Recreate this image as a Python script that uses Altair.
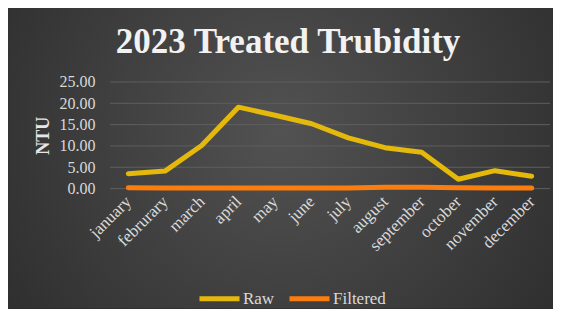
import altair as alt
import pandas as pd

months = ["january", "februrary", "march", "april", "may", "june", "july",
          "august", "september", "october", "november", "december"]
raw = [3.5, 4.1, 10.1, 19.1, 17.2, 15.2, 11.9, 9.6, 8.5, 2.2, 4.2, 2.9]
filtered = [0.2, 0.15, 0.15, 0.15, 0.15, 0.15, 0.15, 0.3, 0.3, 0.2, 0.15, 0.15]
series = ["Raw", "Filtered"]
colors = ["#e4b90c", "#fb7d0e"]
y_ticks = [0, 5, 10, 15, 20, 25]
title_text = "2023 Treated Trubidity"

SERIF = "'Liberation Serif', serif"
W, H = 440, 106.6
PAD = {"left": 102, "top": 74, "right": 3, "bottom": 120}

df = pd.DataFrame({
    "month": months * 2,
    "value": raw + filtered,
    "series": [series[0]] * len(months) + [series[1]] * len(months),
})
grid_df = pd.DataFrame({"value": y_ticks})
one = pd.DataFrame({"t": [title_text]})

y_axis = alt.Axis(title="NTU", values=y_ticks, format=".2f", labelOverlap=False,
                  labelFont=SERIF, labelFontSize=16, labelColor="#d9d9d9",
                  labelPadding=15, domain=False, ticks=False, grid=False,
                  titleFont=SERIF, titleFontSize=18, titleFontWeight="bold",
                  titleColor="#e6e6e6", titleX=-67, titleY=H / 2,
                  titleBaseline="middle", titleAngle=270, zindex=1)
y_scale = alt.Scale(domain=[0, 25], nice=False)

bg = alt.Chart(one).mark_rect(
    color={
        "gradient": "radial",
        "x1": 0.5, "y1": 0.45, "r1": 0,
        "x2": 0.5, "y2": 0.45, "r2": 0.75,
        "stops": [
            {"offset": 0, "color": "#525252"},
            {"offset": 1, "color": "#262626"},
        ],
    }
).encode(
    x=alt.value(-PAD["left"]),
    x2=alt.value(W + PAD["right"]),
    y=alt.value(-PAD["top"]),
    y2=alt.value(H + PAD["bottom"]),
)

grid = alt.Chart(grid_df).mark_rule(color="#5e5e5e", strokeWidth=1).encode(
    y=alt.Y("value:Q", scale=y_scale, axis=y_axis)
)

lines = alt.Chart(df).mark_line(strokeWidth=5, strokeCap="round", strokeJoin="round").encode(
    x=alt.X("month:N", sort=months,
            scale=alt.Scale(type="point", padding=0.5),
            axis=alt.Axis(title=None, labelAngle=-45, labelAlign="right",
                          labelBaseline="middle", labelPadding=10, labelOverlap=False,
                          labelFont=SERIF, labelFontSize=17, labelColor="#d9d9d9",
                          domain=False, ticks=False, grid=False, zindex=1)),
    y=alt.Y("value:Q", scale=y_scale, axis=y_axis),
    color=alt.Color("series:N", scale=alt.Scale(domain=series, range=colors),
                    sort=series,
                    legend=alt.Legend(title=None, orient="none", direction="horizontal",
                                      legendX=87, legendY=194, symbolType="stroke",
                                      symbolSize=1600, symbolStrokeWidth=5,
                                      labelFont=SERIF, labelFontSize=17,
                                      labelColor="#d9d9d9", labelOffset=1,
                                      columnPadding=4, padding=0, zindex=1)),
    order=alt.Order("series:N"),
)

title = alt.Chart(one).mark_text(
    font=SERIF, fontSize=35, fontWeight="bold", color="#f2f2f2",
    align="center", baseline="alphabetic"
).encode(
    x=alt.value(178),
    y=alt.value(-29),
    text="t:N",
)

chart = alt.layer(bg, grid, lines, title).properties(
    width=W, height=H,
    autosize=alt.AutoSizeParams(type="none"),
    padding=PAD,
).configure(background="#262626", font=SERIF).configure_view(stroke=None).configure_legend(
    labelFont=SERIF, labelFontSize=17, labelColor="#d9d9d9"
)

chart.save("out.html", embed_options={"renderer": "svg", "actions": False})
